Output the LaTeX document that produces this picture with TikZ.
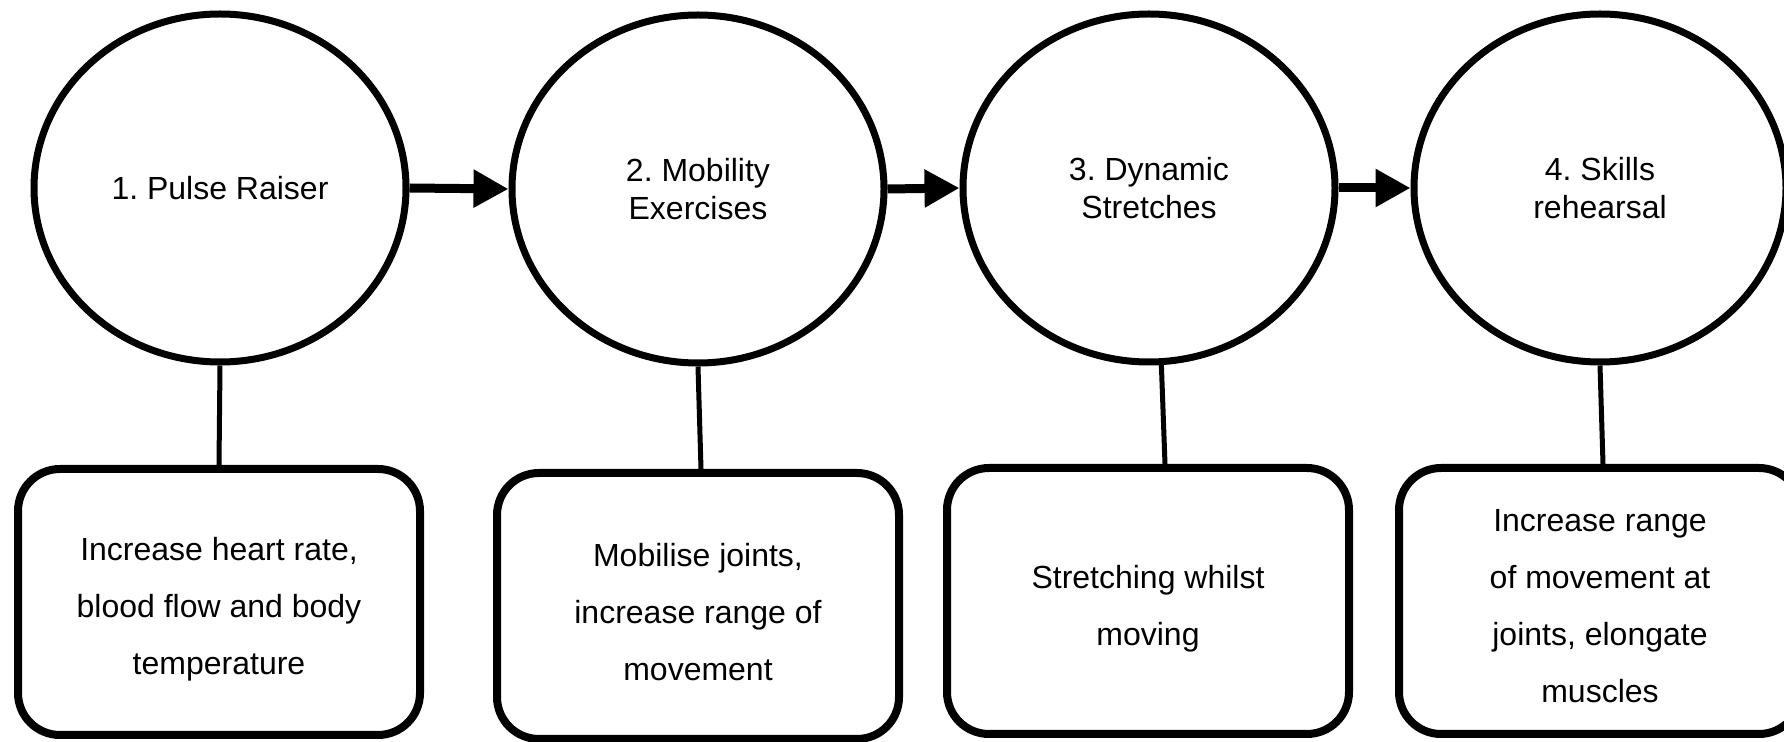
\documentclass[tikz,border=0pt]{standalone}
\usepackage{fontspec}
\setmainfont{Liberation Sans}
\usetikzlibrary{arrows.meta,calc,shapes.geometric}
\frenchspacing
\begin{document}
\begin{tikzpicture}[x=0.5pt,y=-0.5pt,
  stage/.style={ellipse,draw,line width=3.5pt,minimum width=186pt,minimum height=174pt,
    inner sep=0pt,align=center,font=\fontsize{16pt}{18.75pt}\selectfont},
  effect/.style={rectangle,rounded corners=21pt,draw,line width=4pt,minimum width=201pt,
    minimum height=133pt,inner sep=0pt},
  effecttext/.style={inner sep=0pt,align=center,font=\fontsize{16pt}{28.5pt}\selectfont},
  flow/.style={line width=4.5pt,-{Triangle[length=17.5pt,width=18pt]}},
  link/.style={line width=2.5pt}]
\useasboundingbox (0,0) rectangle (1784,742);

% warm-up stages
\node[stage] (c1) at (220,188) {1. Pulse Raiser};
\node[stage] (c2) at (698,189) {2. Mobility\\Exercises};
\node[stage] (c3) at (1149,188) {3. Dynamic\\Stretches};
\node[stage] (c4) at (1600,188) {4. Skills\\rehearsal};

% what each stage does
\node[effect] (b1) at (219,602) {};
\node[effect] (b2) at (698,606) {};
\node[effect] (b3) at (1148,601) {};
\node[effect] (b4) at (1600,601) {};
\node[effecttext] (t1) at ($(b1.center)+(0,7)$) {Increase heart rate,\\blood flow and body\\temperature};
\node[effecttext] (t2) at ($(b2.center)+(0,6)$) {Mobilise joints,\\increase range of\\movement};
\node[effecttext] (t3) at ($(b3.center)+(0,8)$) {Stretching whilst\\moving};
\node[effecttext] (t4) at ($(b4.center)+(0,5)$) {Increase range\\of movement at\\joints, elongate\\muscles};

% order of the stages
\draw[flow] (c1.east) -- (c2.west);
\draw[flow] (c2.east) -- (c3.west);
\draw[flow] (c3.east) -- (c4.west);

% stage to description
\draw[link] (c1.south) -- (b1.north);
\draw[link] (c2.south) -- ($(b2.north)+(3,0)$);
\draw[link] (c3.-86) -- ($(b3.north)+(17,0)$);
\draw[link] (c4.south) -- ($(b4.north)+(3,0)$);
\end{tikzpicture}
\end{document}
